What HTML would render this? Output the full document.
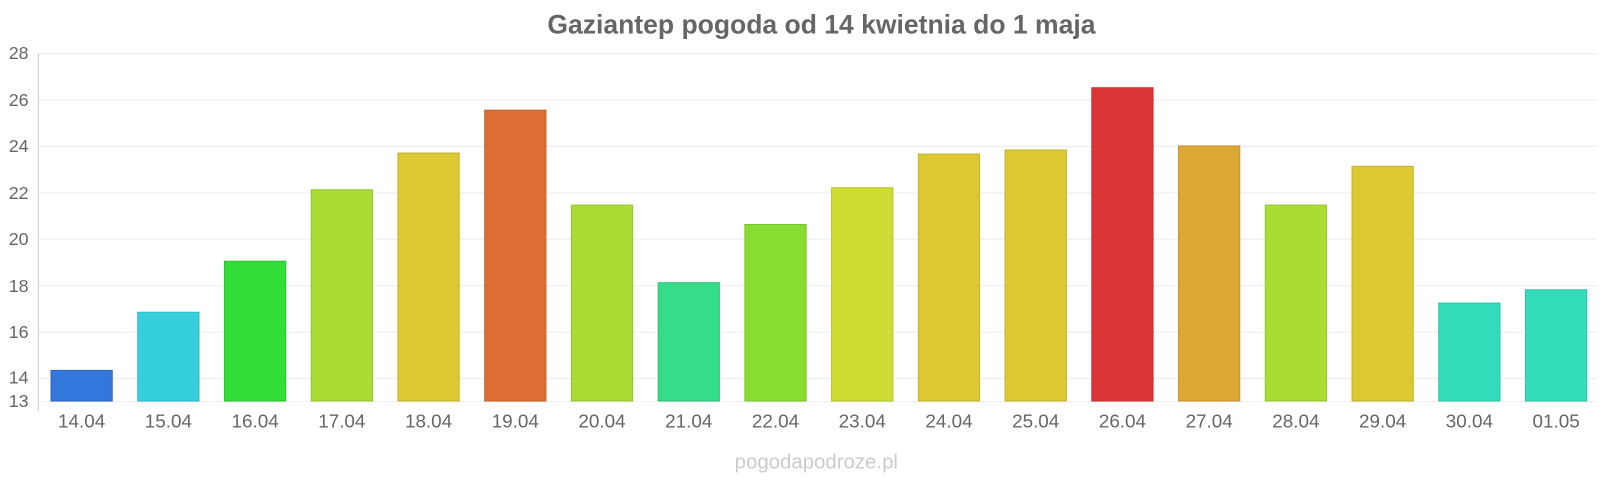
<!DOCTYPE html>
<html><head><meta charset="utf-8"><style>
body{margin:0;background:#fff;}
svg{display:block;font-family:"Liberation Sans",sans-serif;}
</style></head><body>
<svg width="1600" height="480" viewBox="0 0 1600 480">
<g transform="scale(1.0204)">
<text x="805" y="33" text-anchor="middle" font-size="26" font-weight="bold" fill="#666">Gaziantep pogoda od 14 kwietnia do 1 maja</text>
<g stroke="#eee" stroke-width="1">
<line x1="38" x2="1565" y1="52.5" y2="52.5"/>
<line x1="38" x2="1565" y1="98" y2="98"/>
<line x1="38" x2="1565" y1="143.5" y2="143.5"/>
<line x1="38" x2="1565" y1="189" y2="189"/>
<line x1="38" x2="1565" y1="234.5" y2="234.5"/>
<line x1="38" x2="1565" y1="280" y2="280"/>
<line x1="38" x2="1565" y1="325.5" y2="325.5"/>
<line x1="38" x2="1565" y1="371" y2="371"/>
<line x1="38" x2="1565" y1="393.5" y2="393.5"/>
</g>
<line x1="37.5" x2="37.5" y1="52" y2="403" stroke="#ccc"/>
<g font-size="17.5" fill="#666" text-anchor="end">
<text x="28" y="58">28</text><text x="28" y="104">26</text><text x="28" y="149">24</text>
<text x="28" y="195">22</text><text x="28" y="240">20</text><text x="28" y="286">18</text>
<text x="28" y="331">16</text><text x="28" y="376">14</text><text x="28" y="399">13</text>
</g>
<g stroke-width="1">
<rect x="50" y="363" width="60" height="30" fill="#3377dd" stroke="#2a66c4"/>
<rect x="135" y="306" width="60" height="87" fill="#36d0dd" stroke="#2fb8c4"/>
<rect x="220" y="256" width="60" height="137" fill="#33dd38" stroke="#2cc431"/>
<rect x="305" y="186" width="60" height="207" fill="#aadd33" stroke="#97c42c"/>
<rect x="390" y="150" width="60" height="243" fill="#dcc833" stroke="#c4b22c"/>
<rect x="475" y="108" width="60" height="285" fill="#dd6e33" stroke="#c4612c"/>
<rect x="560" y="201" width="60" height="192" fill="#aadd33" stroke="#97c42c"/>
<rect x="645" y="277" width="60" height="116" fill="#36dd88" stroke="#2fc478"/>
<rect x="730" y="220" width="60" height="173" fill="#88dd33" stroke="#78c42c"/>
<rect x="815" y="184" width="60" height="209" fill="#cedd33" stroke="#b7c42c"/>
<rect x="900" y="151" width="60" height="242" fill="#dcc833" stroke="#c4b22c"/>
<rect x="985" y="147" width="60" height="246" fill="#dcc833" stroke="#c4b22c"/>
<rect x="1070" y="86" width="60" height="307" fill="#dd3535" stroke="#c42e2e"/>
<rect x="1155" y="143" width="60" height="250" fill="#dca833" stroke="#c4952c"/>
<rect x="1240" y="201" width="60" height="192" fill="#aadd33" stroke="#97c42c"/>
<rect x="1325" y="163" width="60" height="230" fill="#dcc833" stroke="#c4b22c"/>
<rect x="1410" y="297" width="60" height="96" fill="#33ddbb" stroke="#2cc4a6"/>
<rect x="1495" y="284" width="60" height="109" fill="#33ddbb" stroke="#2cc4a6"/>
</g>
<g font-size="18.5" fill="#666" text-anchor="middle">
<text x="80" y="419">14.04</text><text x="165" y="419">15.04</text><text x="250" y="419">16.04</text>
<text x="335" y="419">17.04</text><text x="420" y="419">18.04</text><text x="505" y="419">19.04</text>
<text x="590" y="419">20.04</text><text x="675" y="419">21.04</text><text x="760" y="419">22.04</text>
<text x="845" y="419">23.04</text><text x="930" y="419">24.04</text><text x="1015" y="419">25.04</text>
<text x="1100" y="419">26.04</text><text x="1185" y="419">27.04</text><text x="1270" y="419">28.04</text>
<text x="1355" y="419">29.04</text><text x="1440" y="419">30.04</text><text x="1525" y="419">01.05</text>
</g>
<text x="800" y="459" text-anchor="middle" font-size="20" fill="#ccc">pogodapodroze.pl</text>
</g>
</svg>
</body></html>
